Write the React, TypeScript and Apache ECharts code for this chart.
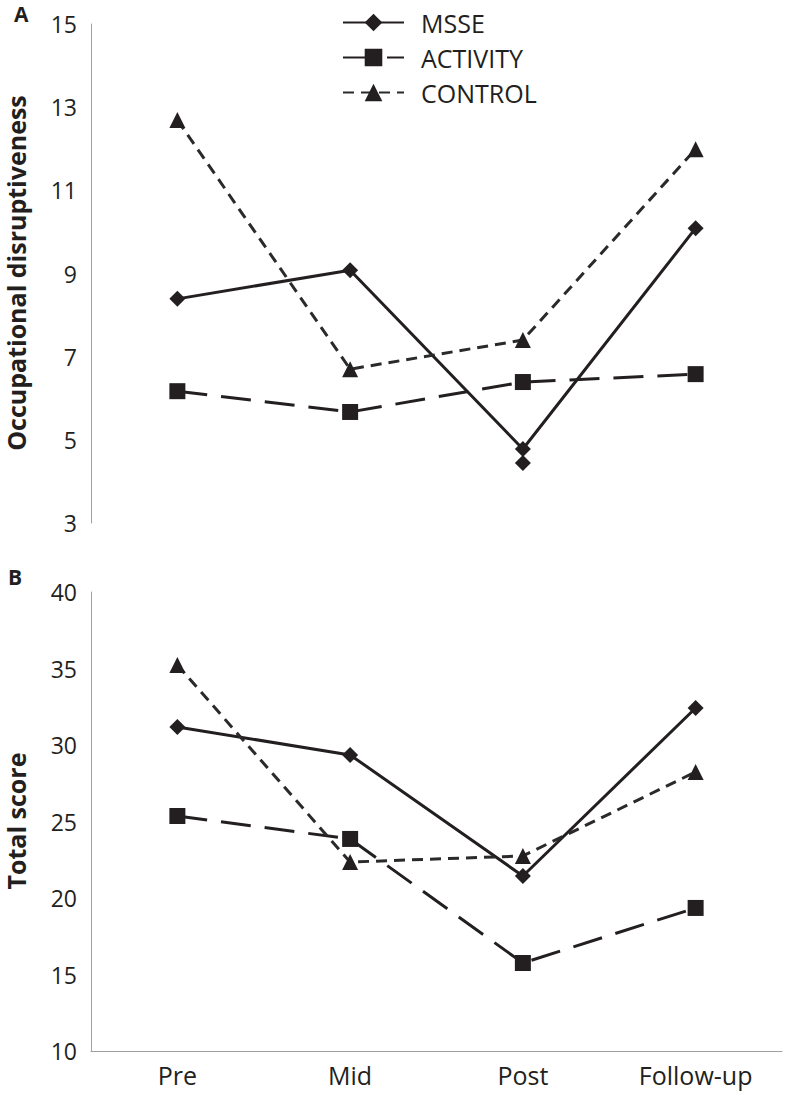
import React, { useEffect, useRef } from "react";
import * as echarts from "echarts";

const categories = ["Pre", "Mid", "Post", "Follow-up"];

// Panel A – Occupational disruptiveness
const msseA = [8.39, 9.08, 4.78, 10.09];
const msseAPostExtra = [null, null, 4.44, null];
const activityA = [6.17, 5.67, 6.39, 6.58];
const controlA = [12.69, 6.7, 7.4, 11.99];
const yTicksA = [3, 5, 7, 9, 11, 13, 15];

// Panel B – Total score
const msseB = [31.18, 29.35, 21.44, 32.42];
const activityB = [25.36, 23.86, 15.75, 19.35];
const controlB = [35.23, 22.35, 22.75, 28.24];

const FONT = "Open Sans";
const INK = "#231f20";
const AXIS = "#a0a0a0";

export default function App() {
  const ref = useRef<HTMLDivElement>(null);

  useEffect(() => {
    document.body.style.margin = "0";
    if (!ref.current) return;
    const chart = echarts.init(ref.current, undefined, { renderer: "svg" });

    const msseStyle = { color: INK, width: 3, type: "solid" as const };
    const actStyle = { color: INK, width: 3, type: [30, 14] };
    const ctrlStyle = { color: "#2a2a2a", width: 3, type: [11, 7] };

    const mk = (
      name: string,
      data: (number | null)[],
      idx: number,
      symbol: string,
      lineStyle: any,
      color: string
    ) => ({
      name,
      type: "line",
      xAxisIndex: idx,
      yAxisIndex: idx,
      data,
      symbol,
      symbolSize: 16,
      showSymbol: true,
      lineStyle,
      itemStyle: { color, borderWidth: 0, opacity: 1 },
      emphasis: { disabled: true },
      z: 2,
    });

    const option: any = {
      animation: false,
      backgroundColor: "#ffffff",
      textStyle: { fontFamily: FONT },
      legend: {
        data: ["MSSE", "ACTIVITY", "CONTROL"],
        orient: "vertical",
        left: 337,
        top: 5,
        itemWidth: 61,
        itemHeight: 22,
        itemGap: 10,
        selectedMode: false,
        textStyle: {
          fontFamily: FONT,
          fontSize: 25,
          color: INK,
          padding: [0, 0, 0, 12],
        },
      },
      grid: [
        { left: 91, right: 6, top: 24, height: 499, containLabel: false },
        { left: 91, right: 6, top: 592, height: 459, containLabel: false },
      ],
      xAxis: [
        {
          type: "category",
          gridIndex: 0,
          data: categories,
          boundaryGap: true,
          axisLine: { show: false },
          axisTick: { show: false },
          axisLabel: { show: false },
          splitLine: { show: false },
        },
        {
          type: "category",
          gridIndex: 1,
          data: categories,
          boundaryGap: true,
          axisLine: { show: true, lineStyle: { color: AXIS, width: 1 } },
          axisTick: { show: false },
          axisLabel: {
            fontFamily: FONT,
            fontSize: 25,
            color: INK,
            margin: 11,
          },
          splitLine: { show: false },
        },
      ],
      yAxis: [
        {
          type: "value",
          gridIndex: 0,
          min: 3,
          max: 15,
          axisLine: { show: true, lineStyle: { color: AXIS, width: 1 } },
          axisTick: { show: false, customValues: yTicksA },
          axisLabel: {
            customValues: yTicksA,
            fontFamily: FONT,
            fontSize: 23,
            color: INK,
            margin: 14,
          },
          splitLine: { show: false },
        },
        {
          type: "value",
          gridIndex: 1,
          min: 10,
          max: 40,
          interval: 5,
          axisLine: { show: true, lineStyle: { color: AXIS, width: 1 } },
          axisTick: { show: false },
          axisLabel: {
            fontFamily: FONT,
            fontSize: 23,
            color: INK,
            margin: 14,
          },
          splitLine: { show: false },
        },
      ],
      graphic: [
        {
          type: "text",
          left: 14,
          top: 3,
          style: { text: "A", font: `bold 21px "${FONT}"`, fill: INK },
        },
        {
          type: "text",
          left: 8,
          top: 566,
          style: { text: "B", font: `bold 21px "${FONT}"`, fill: INK },
        },
        {
          type: "text",
          x: 16,
          y: 273,
          rotation: Math.PI / 2,
          style: {
            text: "Occupational disruptiveness",
            font: `bold 25px "${FONT}"`,
            fill: INK,
            align: "center",
            verticalAlign: "middle",
          },
        },
        {
          type: "text",
          x: 16,
          y: 821,
          rotation: Math.PI / 2,
          style: {
            text: "Total score",
            font: `bold 25px "${FONT}"`,
            fill: INK,
            align: "center",
            verticalAlign: "middle",
          },
        },
      ],
      series: [
        mk("MSSE", msseA, 0, "diamond", msseStyle, INK),
        mk("ACTIVITY", activityA, 0, "rect", actStyle, INK),
        mk("CONTROL", controlA, 0, "triangle", ctrlStyle, INK),
        {
          name: "MSSE (Post marker)",
          type: "scatter",
          xAxisIndex: 0,
          yAxisIndex: 0,
          data: msseAPostExtra,
          symbol: "diamond",
          symbolSize: 16,
          itemStyle: { color: INK, opacity: 1 },
          emphasis: { disabled: true },
          z: 3,
        },
        mk("MSSE", msseB, 1, "diamond", msseStyle, INK),
        mk("ACTIVITY", activityB, 1, "rect", actStyle, INK),
        mk("CONTROL", controlB, 1, "triangle", ctrlStyle, INK),
      ],
    };

    chart.setOption(option);
    return () => chart.dispose();
  }, []);

  return <div ref={ref} style={{ width: 788, height: 1094 }} />;
}
